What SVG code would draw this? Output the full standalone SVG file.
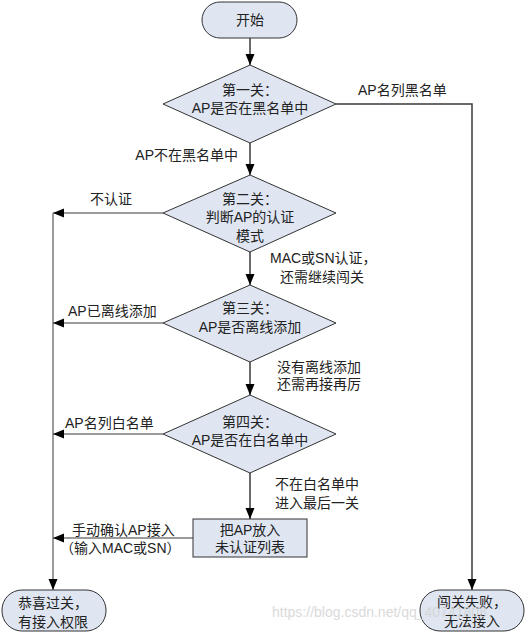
<svg xmlns="http://www.w3.org/2000/svg" width="525" height="633" viewBox="0 0 525 633">
<style>
.n{fill:#dfe6f2;stroke:#333;stroke-width:1}
.t{font-family:"Liberation Sans","Noto Sans CJK SC",sans-serif;font-size:14px;fill:#222}
.c{text-anchor:middle}
.l{fill:none;stroke:#3a3a3a;stroke-width:1.5}
.g{stroke:#7a7a7a}
.w{font-family:"Liberation Sans",sans-serif;font-size:14px;fill:#d4d4d4}
</style>
<defs>
<marker id="a" markerUnits="userSpaceOnUse" markerWidth="12" markerHeight="10" refX="11" refY="4.5" orient="auto">
<path d="M0,0 L11,4.5 L0,9 z" fill="#000"/>
</marker>
</defs>
<rect width="525" height="633" fill="#fff"/>
<g id="connectors">
<path class="l" d="M250,38 V65" marker-end="url(#a)"/>
<path class="l" d="M336,104 H472 V590" marker-end="url(#a)"/>
<path class="l" d="M250,143 V175" marker-end="url(#a)"/>
<path class="l g" d="M163,213 H53" marker-end="url(#a)"/>
<path class="l g" d="M53,213 V590" marker-end="url(#a)"/>
<path class="l" d="M250,252 V285" marker-end="url(#a)"/>
<path class="l g" d="M163,323 H53" marker-end="url(#a)"/>
<path class="l" d="M250,362 V395" marker-end="url(#a)"/>
<path class="l g" d="M163,434 H53" marker-end="url(#a)"/>
<path class="l" d="M250,473 V519" marker-end="url(#a)"/>
<path class="l g" d="M193,538 H53" marker-end="url(#a)"/>
<text class="t" x="358" y="95">AP名列黑名单</text>
<text class="t" x="238" y="160" text-anchor="end">AP不在黑名单中</text>
<text class="t" x="90" y="204">不认证</text>
<text class="t" x="270" y="263">MAC或SN认证，</text>
<text class="t" x="280" y="282">还需继续闯关</text>
<text class="t" x="68" y="316">AP已离线添加</text>
<text class="t" x="277" y="372">没有离线添加</text>
<text class="t" x="277" y="389">还需再接再厉</text>
<text class="t" x="65" y="428">AP名列白名单</text>
<text class="t" x="275" y="489">不在白名单中</text>
<text class="t" x="275" y="508">进入最后一关</text>
<text class="t" x="72" y="535">手动确认AP接入</text>
<text class="t" x="60" y="553">（输入MAC或SN）</text>
</g>
<g id="start">
<rect class="n" x="202" y="2" width="95" height="36" rx="18"/>
<text class="t c" x="250" y="25">开始</text>
</g>
<g id="check1">
<polygon class="n" points="250,65 336,104 250,143 163,104"/>
<text class="t c" x="250" y="95">第一关：</text>
<text class="t c" x="250" y="113">AP是否在黑名单中</text>
</g>
<g id="check2">
<polygon class="n" points="250,175 336,213 250,252 163,213"/>
<text class="t c" x="250" y="204">第二关：</text>
<text class="t c" x="250" y="222">判断AP的认证</text>
<text class="t c" x="250" y="241">模式</text>
</g>
<g id="check3">
<polygon class="n" points="250,285 336,323 250,362 163,323"/>
<text class="t c" x="250" y="313">第三关：</text>
<text class="t c" x="250" y="332">AP是否离线添加</text>
</g>
<g id="check4">
<polygon class="n" points="250,395 336,434 250,473 163,434"/>
<text class="t c" x="250" y="427">第四关：</text>
<text class="t c" x="250" y="445">AP是否在白名单中</text>
</g>
<g id="unauth">
<rect class="n" x="193" y="519" width="114" height="38"/>
<text class="t c" x="250" y="535">把AP放入</text>
<text class="t c" x="250" y="552">未认证列表</text>
</g>
<g id="success">
<rect class="n" x="2" y="590" width="104" height="41" rx="20"/>
<text class="t c" x="53" y="608">恭喜过关，</text>
<text class="t c" x="53" y="627">有接入权限</text>
</g>
<g id="fail">
<rect class="n" x="420" y="590" width="104" height="41" rx="20"/>
<text class="t c" x="472" y="607">闯关失败，</text>
<text class="t c" x="472" y="626">无法接入</text>
</g>
<text class="w" x="272" y="617" opacity="0.85">https://blog.csdn.net/qq_40741808</text>
</svg>
